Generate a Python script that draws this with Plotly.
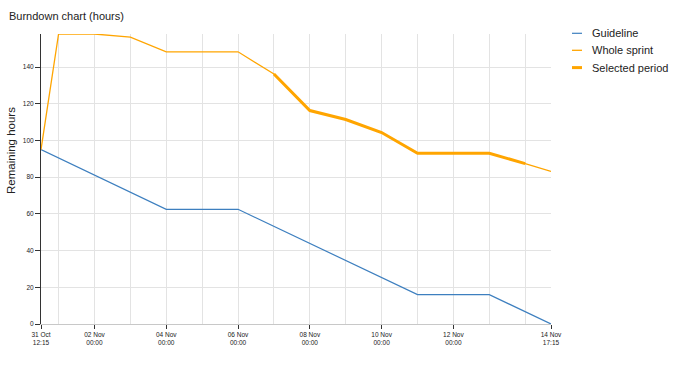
import plotly.graph_objects as go

# ---- data ----
guide_x = ["2023-10-31 12:15", "2023-11-04 00:00", "2023-11-06 00:00",
           "2023-11-11 00:00", "2023-11-13 00:00", "2023-11-14 17:15"]
guide_y = [95, 62.5, 62.5, 16, 16, 0]

sprint_x = ["2023-10-31 12:15", "2023-11-01 00:00", "2023-11-02 00:00", "2023-11-03 00:00",
            "2023-11-04 00:00", "2023-11-05 00:00", "2023-11-06 00:00", "2023-11-07 00:00",
            "2023-11-08 00:00", "2023-11-09 00:00", "2023-11-10 00:00", "2023-11-11 00:00",
            "2023-11-12 00:00", "2023-11-13 00:00", "2023-11-14 00:00", "2023-11-14 17:15"]
sprint_y = [95, 158, 158, 156.3, 148.3, 148.3, 148.3, 136.2,
            116.3, 111.4, 104.3, 93.0, 93.0, 93.0, 87.4, 83.1]

selected_x = ["2023-11-07 00:00", "2023-11-08 00:00", "2023-11-09 00:00", "2023-11-10 00:00",
              "2023-11-11 00:00", "2023-11-12 00:00", "2023-11-13 00:00", "2023-11-14 00:00"]
selected_y = [136.2, 116.3, 111.4, 104.3, 93.0, 93.0, 93.0, 87.4]

x_tickvals = ["2023-10-31 12:15", "2023-11-02 00:00", "2023-11-04 00:00", "2023-11-06 00:00",
              "2023-11-08 00:00", "2023-11-10 00:00", "2023-11-12 00:00", "2023-11-14 17:15"]
x_ticktext = ["31 Oct<br>12:15", "02 Nov<br>00:00", "04 Nov<br>00:00", "06 Nov<br>00:00",
              "08 Nov<br>00:00", "10 Nov<br>00:00", "12 Nov<br>00:00", "14 Nov<br>17:15"]
day_grid = ["2023-11-%02d 00:00" % d for d in range(1, 15)]
y_tickvals = [0, 20, 40, 60, 80, 100, 120, 140]

legend_names = ["Guideline", "Whole sprint", "Selected period"]

BLUE = "#3d7fbf"
ORANGE = "#ffa500"
GRID = "#e3e3e3"
FONT = "Liberation Sans, Arial, sans-serif"

# plot area at x 41..551, y 34..324 (body margin removed by post_script)
fig = go.Figure()
fig.add_trace(go.Scatter(x=guide_x, y=guide_y, mode="lines", name=legend_names[0],
                         line=dict(color=BLUE, width=1.2), showlegend=False))
fig.add_trace(go.Scatter(x=sprint_x, y=sprint_y, mode="lines", name=legend_names[1],
                         line=dict(color=ORANGE, width=1.3), showlegend=False))
fig.add_trace(go.Scatter(x=selected_x, y=selected_y, mode="lines", name=legend_names[2],
                         line=dict(color=ORANGE, width=3), showlegend=False))
# invisible trace carrying the daily grid axis
fig.add_trace(go.Scatter(x=[guide_x[0], guide_x[-1]], y=[None, None], xaxis="x2",
                         mode="lines", showlegend=False, hoverinfo="skip"))

x_range = [guide_x[0], guide_x[-1]]

fig.update_layout(
    width=690, height=365,
    margin=dict(l=41, r=139, t=34, b=41),
    paper_bgcolor="white", plot_bgcolor="white",
    font=dict(family=FONT, color="#222"),
    xaxis=dict(type="date", range=x_range, tickmode="array", tickvals=x_tickvals,
               ticktext=x_ticktext, showgrid=False, zeroline=False,
               showline=True, linecolor="#c8c8c8", linewidth=1,
               ticks="outside", ticklen=4, tickcolor="#333", tickwidth=1,
               tickfont=dict(size=6.5, color="#222")),
    xaxis2=dict(type="date", range=x_range, overlaying="x", tickmode="array",
                tickvals=day_grid, showticklabels=False, ticks="", showgrid=True,
                gridcolor=GRID, gridwidth=1, zeroline=False, showline=False),
    yaxis=dict(range=[0, 158], tickmode="array", tickvals=y_tickvals,
               showgrid=True, gridcolor=GRID, gridwidth=1, zeroline=False,
               showline=True, linecolor="#333", linewidth=1,
               ticks="outside", ticklen=5, tickcolor="#333", tickwidth=1,
               tickfont=dict(size=6.5, color="#222")),
    hovermode=False,
)

# title
fig.add_annotation(text="Burndown chart (hours)", xref="paper", yref="paper",
                   x=(7 - 41) / 510, y=(324 - 16) / 290, xanchor="left", yanchor="middle",
                   showarrow=False, font=dict(size=11, color="#222", family=FONT))

# y axis title
fig.add_annotation(text="Remaining hours", xref="paper", yref="paper",
                   x=(11 - 41) / 510, y=(324 - 151) / 290, textangle=-90,
                   showarrow=False, xanchor="center", yanchor="middle",
                   font=dict(size=11.5, color="#222", family=FONT))

# custom legend
leg_colors = [BLUE, ORANGE, ORANGE]
leg_widths = [1.2, 1.3, 3]
leg_ypx = [33.3, 50.3, 67.6]
for name, c, w, ypx in zip(legend_names, leg_colors, leg_widths, leg_ypx):
    yp = (324 - ypx) / 290
    fig.add_shape(type="line", xref="paper", yref="paper",
                  x0=(572 - 41) / 510, x1=(582 - 41) / 510, y0=yp, y1=yp,
                  line=dict(color=c, width=w))
    fig.add_annotation(text=name, xref="paper", yref="paper",
                       x=(590 - 41) / 510, y=yp, xanchor="left", yanchor="middle",
                       showarrow=False, font=dict(size=11, color="#222", family=FONT))

fig.write_html("out.html", config={"displayModeBar": False},
               post_script="document.body.style.margin='0';document.body.style.overflow='hidden';")
